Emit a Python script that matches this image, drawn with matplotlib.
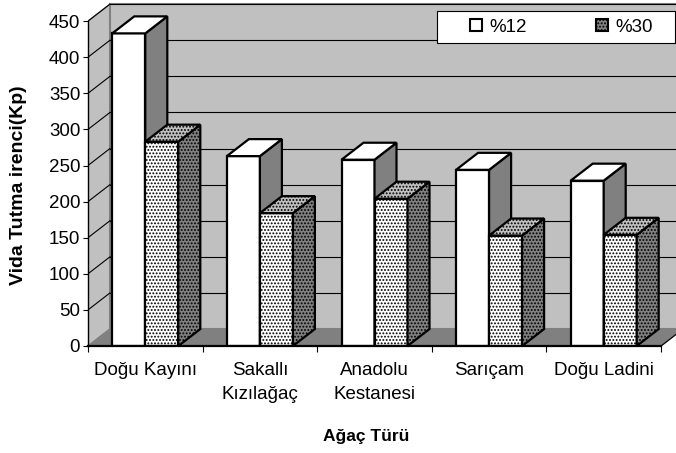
import matplotlib
matplotlib.use('Agg')
import matplotlib.pyplot as plt
from matplotlib.patches import Polygon, Patch, Rectangle
import numpy as np

categories = ['Doğu Kayını', 'Sakallı\nKızılağaç', 'Anadolu\nKestanesi', 'Sarıçam', 'Doğu Ladini']
series_names = ['%12', '%30']
vals_12 = [433, 263, 258, 244, 229]
vals_30 = [283, 184, 204, 153, 154]
yticks = list(range(0, 451, 50))
y_label = 'Vida Tutma irenci(Kp)'
x_label = 'Ağaç Türü'

plt.rcParams['font.family'] = ['Liberation Sans', 'DejaVu Sans']
plt.rcParams['hatch.linewidth'] = 0.9

W, H = 676, 453
fig = plt.figure(figsize=(W / 100, H / 100), dpi=100)
ax = fig.add_axes([88 / W, (H - 346) / H, (W - 88) / W, 346 / H])

px_per_cat = 114.6
px_per_val = 0.722
ax.set_xlim(-0.5, -0.5 + (W - 88) / px_per_cat)
ax.set_ylim(0, 346 / px_per_val)

dx = 22 / px_per_cat
dy = 17 / px_per_val
bw = 33 / px_per_cat
n = len(categories)
x0, x1 = -0.5, n - 0.5
ymax = yticks[-1]

wall = '#C0C0C0'
floorc = '#808080'
edge_grey = '#808080'
fs = 13.5

# walls
ax.add_patch(Polygon([(x0, 0), (x0, ymax), (x0 + dx, ymax + dy), (x0 + dx, dy)],
                     closed=True, fc=wall, ec=edge_grey, lw=1, zorder=0))
ax.add_patch(Polygon([(x0 + dx, dy), (x1 + dx, dy), (x1 + dx, ymax + dy), (x0 + dx, ymax + dy)],
                     closed=True, fc=wall, ec=edge_grey, lw=1.5, zorder=0))
ax.add_patch(Polygon([(x0, 0), (x1, 0), (x1 + dx, dy), (x0 + dx, dy)],
                     closed=True, fc=floorc, ec=edge_grey, lw=1, zorder=0.5))
for v in yticks[1:]:
    ax.plot([x0 + dx, x1 + dx], [v + dy, v + dy], color='black', lw=0.8, zorder=1)
    ax.plot([x0, x0 + dx], [v, v + dy], color='black', lw=0.8, zorder=1)

# bars
xs = np.arange(n)
series = [vals_12, vals_30]
styles = [
    dict(front='white', side='#808080', top='white', hatch=None),
    dict(front='white', side='#808080', top='#C0C0C0', hatch='.....'),
]
lw = 1.6
for s, vals in enumerate(series):
    st = styles[s]
    left = xs - bw + s * bw
    z = 3 + s
    ax.bar(left, vals, width=bw, align='edge', color=st['front'], edgecolor='black',
           linewidth=lw, hatch=st['hatch'], zorder=z, joinstyle='miter')
    for l, v in zip(left, vals):
        r = l + bw
        ax.add_patch(Polygon([(r, 0), (r + dx, dy), (r + dx, v + dy), (r, v)], closed=True,
                             fc=st['side'], ec='black', lw=lw, hatch=st['hatch'], zorder=z,
                             joinstyle='miter'))
        ax.add_patch(Polygon([(l, v), (r, v), (r + dx, v + dy), (l + dx, v + dy)], closed=True,
                             fc=st['top'], ec='black', lw=lw, hatch=st['hatch'], zorder=z,
                             joinstyle='miter'))

# axis lines
ax.plot([x0, x0], [0, ymax], color='black', lw=1, zorder=6, clip_on=False)
ax.plot([x0, x1], [0, 0], color='black', lw=1.6, zorder=6, clip_on=False)
ax.plot([x1, x1 + dx], [0, dy], color='black', lw=0.8, zorder=6)

for sp in ax.spines.values():
    sp.set_visible(False)

ax.set_yticks(yticks)
ax.set_yticklabels([str(t) for t in yticks], fontsize=fs)
ax.tick_params(axis='y', length=3.6, width=0.8, pad=2, direction='out')

ax.set_xticks(np.arange(n + 1) - 0.5)
ax.set_xticklabels([''] * (n + 1))
ax.set_xticks(xs, minor=True)
ax.set_xticklabels(categories, minor=True, fontsize=fs, linespacing=1.55)
ax.tick_params(axis='x', which='major', length=4.3, width=0.8, direction='out')
ax.tick_params(axis='x', which='minor', length=0, pad=11.5)

ax.set_ylabel(y_label, fontsize=14, fontweight='bold')
ax.yaxis.set_label_coords((27 - 88) / (W - 88), 1 - 185 / 346)
fig.text(366 / W, 1 - 436 / H, x_label, ha='center', va='center', fontsize=12.5, fontweight='bold')

# legend box
ax.add_patch(Rectangle(((437 - 88) / (W - 88), 1 - 43 / 346), 238 / (W - 88), 32 / 346,
                       transform=ax.transAxes, fc='white', ec='black', lw=0.8, zorder=9,
                       clip_on=False))
handles = [Patch(fc='white', ec='black', lw=1.5),
           Patch(fc='#808080', ec='black', hatch='.....', lw=1.5)]
leg = ax.legend(handles, series_names, loc='center left', ncol=2,
                bbox_to_anchor=((470 - 88) / (W - 88), 1 - 27 / 346),
                fontsize=fs, frameon=False, handlelength=0.65, handleheight=0.65,
                handletextpad=0.37, columnspacing=3.7, borderaxespad=0, borderpad=0)
leg.set_zorder(10)

fig.savefig('out.png', dpi=100)
